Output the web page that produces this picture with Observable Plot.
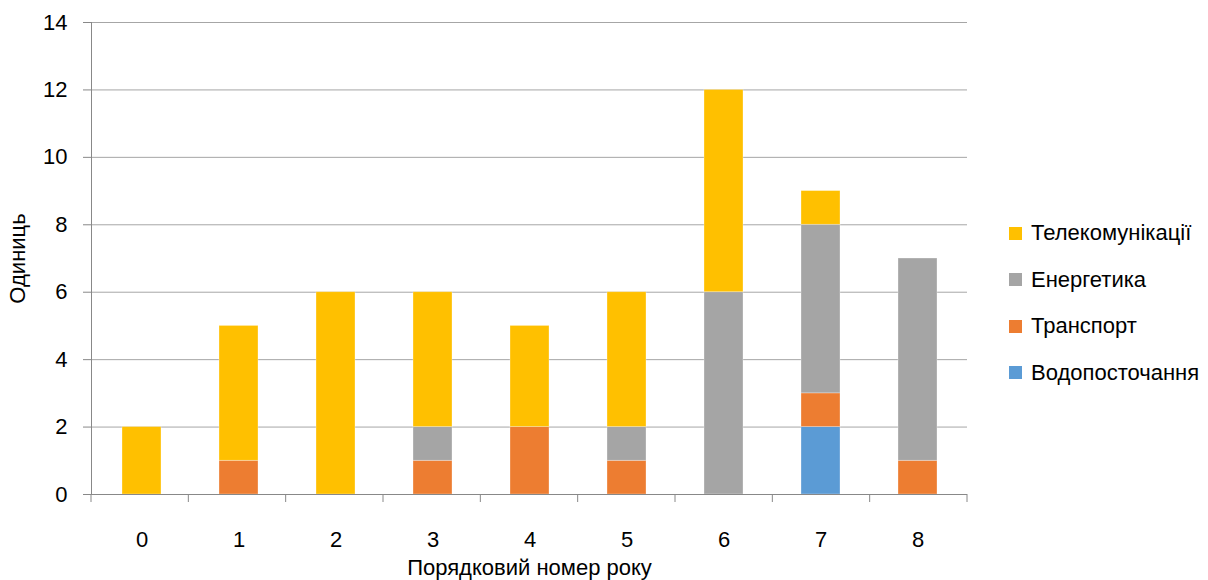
<!DOCTYPE html>
<html>
<head>
<meta charset="utf-8">
<script src="https://cdn.jsdelivr.net/npm/d3@7"></script>
<script src="https://cdn.jsdelivr.net/npm/@observablehq/plot@0.6"></script>
<style>
  body { margin: 0; background: #fff; }
  #chart { position: relative; width: 1208px; height: 580px; font-family: "Liberation Sans", Arial, sans-serif; }
  #legend { position: absolute; left: 1009px; top: 210px; font-size: 22px; color: #000; }
  #legend .item { display: flex; align-items: center; height: 46.5px; }
  #legend .sw { width: 13px; height: 13px; margin-right: 9px; }
</style>
</head>
<body>
<div id="chart"></div>
<script>
// Number of units per year, by sector
const years = [0, 1, 2, 3, 4, 5, 6, 7, 8];
const water = [0, 0, 0, 0, 0, 0, 0, 2, 0];
const transport = [0, 1, 0, 1, 2, 1, 0, 1, 1];
const energy = [0, 0, 0, 1, 0, 1, 6, 5, 6];
const telecom = [2, 4, 6, 4, 3, 4, 6, 1, 0];

const seriesNames = ["Водопосточання", "Транспорт", "Енергетика", "Телекомунікації"];
const seriesValues = [water, transport, energy, telecom];
const seriesColors = ["#5B9BD5", "#ED7D31", "#A5A5A5", "#FFC000"];
const yTicks = [0, 2, 4, 6, 8, 10, 12, 14];

// Long table, bottom-to-top stacking order
const rows = [];
seriesNames.forEach((name, s) => {
  years.forEach((yr, i) => rows.push({year: yr, sector: name, value: seriesValues[s][i]}));
});

const gridColor = "#a6a6a6";

// Tick marks at the boundaries between year bands
function bandBoundaryTicks(index, scales, values, dims) {
  const {y} = scales;
  const step = (dims.width - dims.marginLeft - dims.marginRight) / years.length;
  const y0 = y(0);
  const g = d3.create("svg:g").attr("stroke", "#888").attr("stroke-width", 1);
  for (let i = 0; i <= years.length; i++) {
    const px = dims.marginLeft + i * step;
    g.append("line").attr("x1", px).attr("x2", px).attr("y1", y0).attr("y2", y0 + 8);
  }
  return g.node();
}

const plot = Plot.plot({
  width: 1208,
  height: 580,
  marginLeft: 91,
  marginRight: 241,
  marginTop: 22,
  marginBottom: 86,
  style: {fontFamily: "Liberation Sans, Arial, sans-serif", fontSize: "22px", color: "#000", background: "#fff"},
  x: {type: "band", domain: years, paddingInner: 0.6, paddingOuter: 0.3},
  y: {domain: [0, 14]},
  color: {domain: seriesNames, range: seriesColors},
  marks: [
    Plot.gridY(yTicks.filter(v => v > 0), {stroke: gridColor, strokeOpacity: 1, strokeWidth: 1}),
    Plot.barY(rows, Plot.stackY({x: "year", y: "value", fill: "sector", stroke: "#fff", strokeOpacity: 0.4, strokeWidth: 0.75})),
    Plot.ruleY([0], {stroke: "#888", strokeWidth: 1}),
    Plot.frame({anchor: "left", stroke: "#888", strokeWidth: 1}),
    Plot.axisY(yTicks, {tickSize: 8, tickPadding: 16, stroke: "#888", label: "Одиниць", labelArrow: "none", labelAnchor: "center", labelOffset: 82, fontSize: 22}),
    Plot.axisX(years, {tickSize: 0, tickPadding: 37, label: "Порядковий номер року", labelArrow: "none", labelAnchor: "center", labelOffset: 80, fontSize: 22}),
    bandBoundaryTicks
  ]
});

const chart = document.getElementById("chart");
chart.appendChild(plot);

// Legend, top item first
const legend = document.createElement("div");
legend.id = "legend";
for (let s = seriesNames.length - 1; s >= 0; s--) {
  const item = document.createElement("div");
  item.className = "item";
  const sw = document.createElement("span");
  sw.className = "sw";
  sw.style.background = seriesColors[s];
  const label = document.createElement("span");
  label.textContent = seriesNames[s];
  item.append(sw, label);
  legend.appendChild(item);
}
chart.appendChild(legend);
</script>
</body>
</html>
